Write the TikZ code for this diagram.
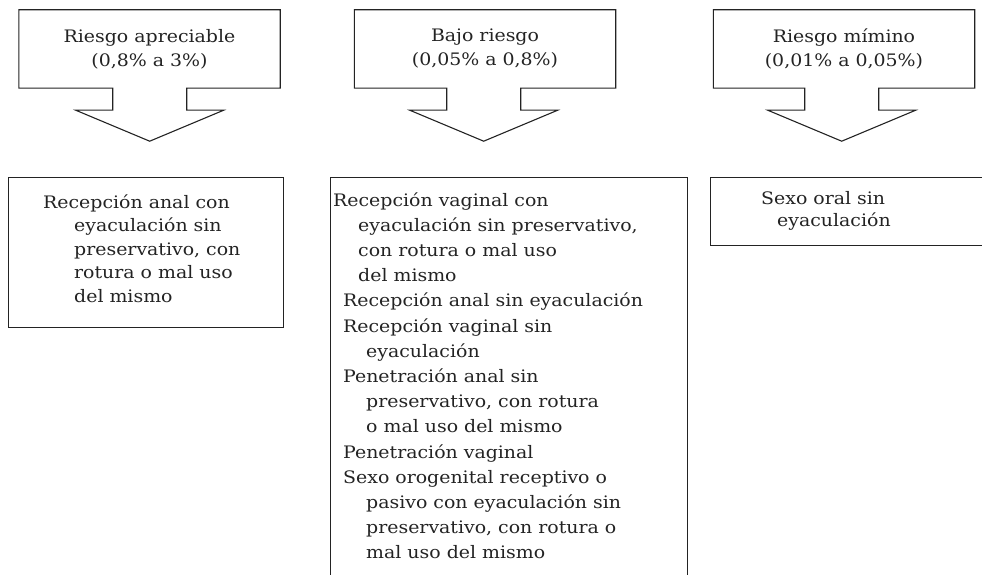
\documentclass[tikz,border=0pt]{standalone}
\usepackage{fontspec}
\setmainfont{DejaVu Serif}[FakeStretch=1.1]
\usepackage{xcolor}
\definecolor{inkgray}{RGB}{35,35,35}
\usepackage{tikz}
\usetikzlibrary{positioning}

\tikzset{
  riskbox/.style={minimum width=261pt, minimum height=78pt, inner sep=0pt,
    align=center, font=\fontsize{17.2}{24}\selectfont},
  listbox/.style={draw=inkgray, line width=1.1pt, inner sep=0pt, anchor=north west},
  listtext/.style={inner sep=0pt, anchor=base west, align=left,
    font=\fontsize{17.2}{25.2}\selectfont}
}

\begin{document}
\begin{tikzpicture}[x=1pt, y=-1pt, text=inkgray]
  % canvas
  \useasboundingbox (0,0) rectangle (982,575);

  % headers with block arrows
  \node[riskbox] (hdrA) at (149.5,49) {Riesgo apreciable\\(0,8\% a 3\%)};
  \node[riskbox] (hdrB) at (485,49) {Bajo riesgo\\(0,05\% a 0,8\%)};
  \node[riskbox] (hdrC) at (844,49) {Riesgo mímino\\(0,01\% a 0,05\%)};

  \draw[inkgray, line width=1.1pt] (hdrA.south west) |- (hdrA.north east) -- (hdrA.south east)
    -- ++(-93.5,0) -- ++(0,22) -- ++(37,0) -- ++(-74,31) -- ++(-74,-31) -- ++(37,0) -- ++(0,-22) -- cycle;
  \draw[inkgray, line width=1.1pt] (hdrB.south west) |- (hdrB.north east) -- (hdrB.south east)
    -- ++(-95,0) -- ++(0,22) -- ++(37,0) -- ++(-74,31) -- ++(-74,-31) -- ++(37,0) -- ++(0,-22) -- cycle;
  \draw[inkgray, line width=1.1pt] (hdrC.south west) |- (hdrC.north east) -- (hdrC.south east)
    -- ++(-96,0) -- ++(0,22) -- ++(37,0) -- ++(-74,31) -- ++(-74,-31) -- ++(37,0) -- ++(0,-22) -- cycle;

  % list boxes
  \node[listbox, minimum width=275pt, minimum height=150pt] (listA) at (8,177) {};
  \node[listbox, minimum width=357pt, minimum height=420pt] (listB) at (330,177) {};
  \node[listbox, minimum width=300pt, minimum height=68pt] (listC) at (710,177) {};

  % list texts (anchored on the baseline of their last line)
  \node[listtext, font=\fontsize{17.2}{23.5}\selectfont] (txtA) at (43,302)
    {Recepción anal con\\
     \hspace*{31pt}eyaculación sin\\
     \hspace*{31pt}preservativo, con\\
     \hspace*{31pt}rotura o mal uso\\
     \hspace*{31pt}del mismo};
  \node[listtext] (txtB) at (333,558.8)
    {Recepción vaginal con\\
     \hspace*{25pt}eyaculación sin preservativo,\\
     \hspace*{25pt}con rotura o mal uso\\
     \hspace*{25pt}del mismo\\
     \hspace*{10pt}Recepción anal sin eyaculación\\
     \hspace*{10pt}Recepción vaginal sin\\
     \hspace*{33pt}eyaculación\\
     \hspace*{10pt}Penetración anal sin\\
     \hspace*{33pt}preservativo, con rotura\\
     \hspace*{33pt}o mal uso del mismo\\
     \hspace*{10pt}Penetración vaginal\\
     \hspace*{10pt}Sexo orogenital receptivo o\\
     \hspace*{33pt}pasivo con eyaculación sin\\
     \hspace*{33pt}preservativo, con rotura o\\
     \hspace*{33pt}mal uso del mismo};
  \node[listtext, font=\fontsize{17.2}{22}\selectfont] (txtC) at (761,226)
    {Sexo oral sin\\
     \hspace*{16pt}eyaculación};
\end{tikzpicture}
\end{document}
